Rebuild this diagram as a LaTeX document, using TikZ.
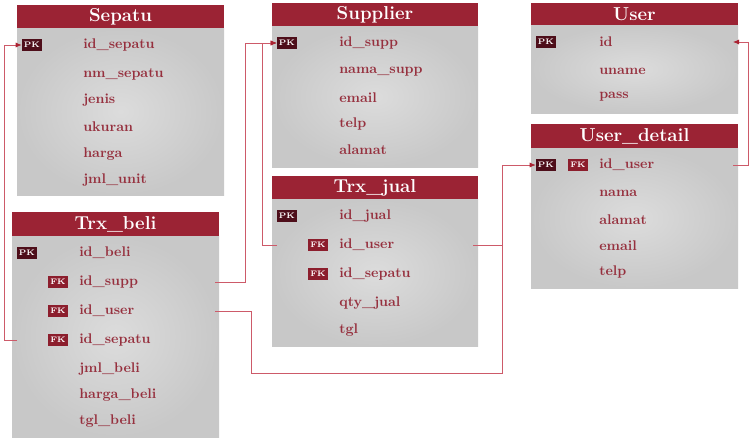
\documentclass[tikz,border=0pt]{standalone}
\usetikzlibrary{arrows.meta}
\definecolor{hdr}{RGB}{155,35,52}
\definecolor{fld}{RGB}{150,48,62}
\definecolor{pkc}{RGB}{78,14,26}
\definecolor{fkc}{RGB}{140,30,45}
\definecolor{lnc}{RGB}{205,90,105}
\definecolor{arc}{RGB}{170,35,50}
\definecolor{bodyin}{RGB}{220,220,220}
\definecolor{bodyout}{RGB}{200,200,200}
\newcommand\erdtable[7]{%
  \node[bodybox, minimum width={(#5-#2)*0.75pt}, minimum height={(#6-#4)*0.75pt}] (#1-body) at (#2,#4) {};
  \node[hdrbox, minimum width={(#5-#2)*0.75pt}, minimum height={(#4-#3)*0.75pt}] (#1) at (#2,#3) {};
  \node[hdrtext] (#1-title) at ({(#2+#5)/2},{(#3+#4)/2}) {#7};
}
\begin{document}
\begin{tikzpicture}[x=0.75pt,y=-0.75pt,
  bodybox/.style={anchor=north west, inner sep=0pt, outer sep=0pt, inner color=bodyin, outer color=bodyout},
  hdrbox/.style={anchor=north west, inner sep=0pt, outer sep=0pt, fill=hdr},
  hdrtext/.style={text=white, inner sep=0pt, font=\fontsize{14}{16}\selectfont\bfseries},
  fieldtxt/.style={anchor=west, inner sep=0pt, text=fld, font=\fontsize{10.5}{12}\selectfont\bfseries},
  pkbadge/.style={fill=pkc, text=white, inner sep=0pt, minimum width=15pt, minimum height=8.5pt, font=\fontsize{6}{6}\selectfont\bfseries},
  fkbadge/.style={pkbadge, fill=fkc},
  conn/.style={draw=lnc, line width=0.6pt},
  arr/.style={conn, -{Latex[length=4.5pt,width=3.8pt,color=arc]}}
]
\useasboundingbox (0,0) rectangle (750,439);

% tables
\erdtable{sep}{17}{5}{28}{224}{195}{Sepatu}
\erdtable{sup}{272}{3}{26}{478}{167}{Supplier}
\erdtable{jual}{272}{176}{199}{478}{346}{Trx\_jual}
\erdtable{usr}{531}{3}{25}{738}{113}{User}
\erdtable{ud}{531}{124}{148}{738}{288}{User\_detail}
\erdtable{beli}{12}{212}{236}{219}{437}{Trx\_beli}

% Sepatu
\node[pkbadge] (sep-pk) at (32,45) {PK};
\node[fieldtxt] (sep-f1) at (83,45) {id\_sepatu};
\node[fieldtxt] (sep-f2) at (83,74) {nm\_sepatu};
\node[fieldtxt] (sep-f3) at (83,100) {jenis};
\node[fieldtxt] (sep-f4) at (83,127) {ukuran};
\node[fieldtxt] (sep-f5) at (83,154) {harga};
\node[fieldtxt] (sep-f6) at (83,180) {jml\_unit};

% Supplier
\node[pkbadge] (sup-pk) at (287,43) {PK};
\node[fieldtxt] (sup-f1) at (339,43) {id\_supp};
\node[fieldtxt] (sup-f2) at (339,72) {nama\_supp};
\node[fieldtxt] (sup-f3) at (339,98) {email};
\node[fieldtxt] (sup-f4) at (339,124) {telp};
\node[fieldtxt] (sup-f5) at (339,150) {alamat};

% Trx_jual
\node[pkbadge] (jual-pk) at (287,216) {PK};
\node[fkbadge] (jual-fk1) at (318,245) {FK};
\node[fkbadge] (jual-fk2) at (318,274) {FK};
\node[fieldtxt] (jual-f1) at (339,216) {id\_jual};
\node[fieldtxt] (jual-f2) at (339,245) {id\_user};
\node[fieldtxt] (jual-f3) at (339,274) {id\_sepatu};
\node[fieldtxt] (jual-f4) at (339,303) {qty\_jual};
\node[fieldtxt] (jual-f5) at (339,330) {tgl};

% User
\node[pkbadge] (usr-pk) at (546,42) {PK};
\node[fieldtxt] (usr-f1) at (599,42) {id};
\node[fieldtxt] (usr-f2) at (599,71) {uname};
\node[fieldtxt] (usr-f3) at (599,97) {pass};

% User_detail
\node[pkbadge] (ud-pk) at (546,165) {PK};
\node[fkbadge] (ud-fk) at (578,165) {FK};
\node[fieldtxt] (ud-f1) at (599,165) {id\_user};
\node[fieldtxt] (ud-f2) at (599,193) {nama};
\node[fieldtxt] (ud-f3) at (599,220) {alamat};
\node[fieldtxt] (ud-f4) at (599,246) {email};
\node[fieldtxt] (ud-f5) at (599,272) {telp};

% Trx_beli
\node[pkbadge] (beli-pk) at (27,253) {PK};
\node[fkbadge] (beli-fk1) at (58,282) {FK};
\node[fkbadge] (beli-fk2) at (58,311) {FK};
\node[fkbadge] (beli-fk3) at (58,340) {FK};
\node[fieldtxt] (beli-f1) at (79,253) {id\_beli};
\node[fieldtxt] (beli-f2) at (79,282) {id\_supp};
\node[fieldtxt] (beli-f3) at (79,311) {id\_user};
\node[fieldtxt] (beli-f4) at (79,340) {id\_sepatu};
\node[fieldtxt] (beli-f5) at (79,369) {jml\_beli};
\node[fieldtxt] (beli-f6) at (79,395) {harga\_beli};
\node[fieldtxt] (beli-f7) at (79,421) {tgl\_beli};

% connector end points and lanes
\coordinate (beli-sepatu-w) at (17,340);
\coordinate (beli-supp-e) at (215,282);
\coordinate (beli-user-e) at (215,311);
\coordinate (jual-user-w) at (277,245);
\coordinate (jual-user-e) at (473,245);
\coordinate (ud-user-e) at (733,165);
\coordinate (usr-id-e) at (733,42);
\coordinate (lane1) at (4,0);
\coordinate (lane2) at (245,0);
\coordinate (lane3) at (262,0);
\coordinate (lane4) at (251,0);
\coordinate (lane5) at (502,0);
\coordinate (lane6) at (748,0);
\coordinate (bottomlane) at (0,373);

% connectors
\draw[arr] (beli-sepatu-w) -- (beli-sepatu-w -| lane1) |- (sep-pk.west);
\draw[arr] (beli-supp-e) -- (beli-supp-e -| lane2) |- (sup-pk.west);
\draw[arr] (jual-user-w) -- (jual-user-w -| lane3) |- (sup-pk.west);
\draw[arr] (beli-user-e) -- (beli-user-e -| lane4) -- (lane4 |- bottomlane) -- (bottomlane -| lane5) |- (ud-pk.west);
\draw[conn] (jual-user-e) -- (jual-user-e -| lane5);
\draw[arr] (ud-user-e) -- (ud-user-e -| lane6) |- (usr-id-e);
\end{tikzpicture}
\end{document}
